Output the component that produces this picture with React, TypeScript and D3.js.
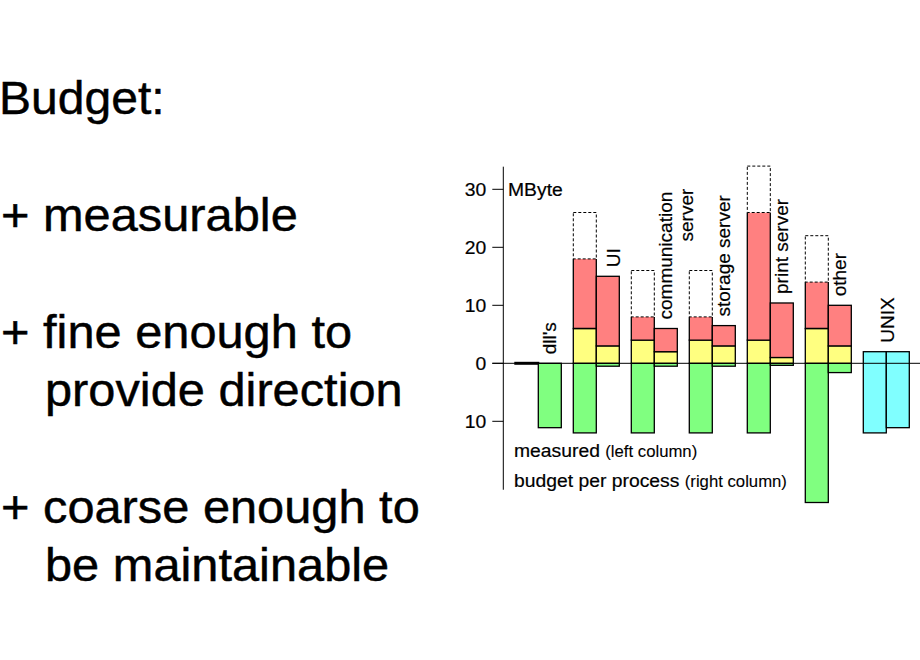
import React from "react";
import * as d3 from "d3";

// ---------- data ----------
const groups = ["dll's", "UI", "communication server", "storage server", "print server", "other", "UNIX"];
const labelLines = [["dll's"], ["UI"], ["communication", "server"], ["storage server"], ["print server"], ["other"], ["UNIX"]];

// measured (left column), MByte
const measuredYellowTop = [0, 6, 4, 4, 4, 6, 0];
const measuredRedTop = [0, 18, 8, 8, 26, 14, 0];
const measuredDashedTop = [0, 26, 16, 16, 34, 22, 0];
const measuredGreenBottom = [0, -12, -12, -12, -12, -24, 0];
const measuredCyanTop = [0, 0, 0, 0, 0, 0, 2];
const measuredCyanBottom = [0, 0, 0, 0, 0, 0, -12];

// budget per process (right column), MByte
const budgetYellowTop = [0, 3, 2, 3, 1, 3, 0];
const budgetRedTop = [0, 15, 6, 6.5, 10.4, 10, 0];
const budgetGreenBottom = [-11.1, -0.5, -0.5, -0.5, -0.35, -1.6, 0];
const budgetCyanTop = [0, 0, 0, 0, 0, 0, 2];
const budgetCyanBottom = [0, 0, 0, 0, 0, 0, -11.1];

const yTicks = [-10, 0, 10, 20, 30];
const yExtent = [-21.8, 33.9];

const bulletLines = [
  { text: "Budget:", indent: false },
  { text: "+ measurable", indent: false },
  { text: "+ fine enough to", indent: false },
  { text: "provide direction", indent: true },
  { text: "+ coarse enough to", indent: false },
  { text: "be maintainable", indent: true },
];
const bulletBaselines = [113.5, 231, 348, 406, 523, 581];

// ---------- styles ----------
const FONT = "'Liberation Sans', Arial, Helvetica, sans-serif";
const C = { green: "#80FF80", yellow: "#FFFF80", red: "#FF8080", cyan: "#80FFFF" };
const SX = 1.045; // horizontal stretch of the original slide text
const SX_BIG = 1.06;
const labelNudge: Record<string, number> = { UI: 6.8, UNIX: 2 };

type Seg = { from: number; to: number; fill: string; dashed?: boolean };

function columnSegments(
  greenBottom: number, yellowTop: number, redTop: number, dashedTop: number,
  cyanBottom: number, cyanTop: number
): Seg[] {
  const s: Seg[] = [];
  if (cyanTop !== cyanBottom) s.push({ from: cyanBottom, to: cyanTop, fill: C.cyan });
  if (greenBottom < 0) s.push({ from: greenBottom, to: 0, fill: C.green });
  if (yellowTop > 0) s.push({ from: 0, to: yellowTop, fill: C.yellow });
  if (redTop > yellowTop) s.push({ from: yellowTop, to: redTop, fill: C.red });
  if (dashedTop > redTop) s.push({ from: redTop, to: dashedTop, fill: "#FFFFFF", dashed: true });
  return s;
}

export default function App() {
  const y = d3.scaleLinear().domain([-10, 30]).range([421.3, 189.3]);
  const x = d3.scaleBand<string>().domain(groups).range([509.3, 915.3]).paddingInner(12 / 58).paddingOuter(6 / 58);
  const sub = d3.scaleBand<string>().domain(["measured", "budget"]).range([0, x.bandwidth()]);
  const axisX = 503.3;
  const tickSize = 11;

  const cols = groups.flatMap((g, i) => {
    const m = columnSegments(measuredGreenBottom[i], measuredYellowTop[i], measuredRedTop[i], measuredDashedTop[i], measuredCyanBottom[i], measuredCyanTop[i]);
    const b = columnSegments(budgetGreenBottom[i], budgetYellowTop[i], budgetRedTop[i], 0, budgetCyanBottom[i], budgetCyanTop[i]);
    return [
      { g, i, key: "measured", x0: (x(g) as number) + (sub("measured") as number), segs: m },
      { g, i, key: "budget", x0: (x(g) as number) + (sub("budget") as number), segs: b },
    ];
  });
  const w = sub.bandwidth();

  return (
    <svg width={920} height={660} style={{ position: "absolute", left: 0, top: 0, background: "#fff" }} fontFamily={FONT}>
      <rect x={0} y={0} width={920} height={660} fill="#fff" />
      {bulletLines.map((l, i) => (
        <text
          key={i}
          transform={`translate(${i === 0 ? -1 : l.indent ? 45 : 1},${bulletBaselines[i]}) scale(${i === 0 ? SX : SX_BIG},1)`}
          fontSize={46}
          fill="#000"
          stroke="#000"
          strokeWidth={0.45}
        >
          {l.text}
        </text>
      ))}

      {/* bars */}
      {cols.map((c) => (
        <g key={c.g + c.key}>
          {c.segs.map((s, k) => {
            const top = y(Math.max(s.from, s.to));
            const bot = y(Math.min(s.from, s.to));
            const next = c.segs[k + 1];
            if (s.dashed) {
              return (
                <rect key={k} x={c.x0} y={top} width={w} height={bot - top} fill="#fff" stroke="#000" strokeWidth={1} strokeDasharray="3,2" />
              );
            }
            if (next && next.dashed) {
              return (
                <g key={k}>
                  <rect x={c.x0} y={top} width={w} height={bot - top} fill={s.fill} />
                  <path d={`M${c.x0},${top}V${bot}H${c.x0 + w}V${top}`} fill="none" stroke="#000" strokeWidth={1.3} />
                </g>
              );
            }
            return <rect key={k} x={c.x0} y={top} width={w} height={bot - top} fill={s.fill} stroke="#000" strokeWidth={1.3} />;
          })}
          {c.key === "measured" && c.segs.length === 0 && (
            <line x1={c.x0 + 0.5} x2={c.x0 + w - 0.5} y1={y(0)} y2={y(0)} stroke="#000" strokeWidth={3} strokeLinecap="square" />
          )}
        </g>
      ))}

      {/* zero line */}
      <line x1={axisX - tickSize} x2={920} y1={y(0)} y2={y(0)} stroke="#000" strokeWidth={1} />

      {/* y axis */}
      <line x1={axisX} x2={axisX} y1={y(yExtent[1])} y2={y(yExtent[0])} stroke="#000" strokeWidth={1} />
      {yTicks.map((t) => (
        <g key={t}>
          <line x1={axisX - tickSize} x2={axisX} y1={y(t)} y2={y(t)} stroke="#000" strokeWidth={1} />
          <text
            transform={`translate(${axisX - tickSize - 6},${y(t)}) scale(${SX},1)`}
            dy="0.36em"
            textAnchor="end"
            fontSize={18.5}
            stroke="#000"
            strokeWidth={0.2}
          >
            {Math.abs(t)}
          </text>
        </g>
      ))}
      <text transform={`translate(508,195.5) scale(${SX},1)`} fontSize={18.5} stroke="#000" strokeWidth={0.2}>MByte</text>

      {/* rotated labels */}
      {groups.map((g, i) => {
        const bx = (x(g) as number) + (sub("budget") as number);
        const isUnix = budgetCyanTop[i] > 0;
        const cx = isUnix ? (x(g) as number) + x.bandwidth() / 2 : bx + w / 2;
        const topVal = Math.max(0, budgetYellowTop[i], budgetRedTop[i], budgetCyanTop[i]);
        const ly = y(topVal) - 9;
        const lx = cx + 5.8 + (labelNudge[g] || 0);
        return labelLines[i].map((ln, j) => (
          <text
            key={g + j}
            transform={`translate(${lx + j * 21},${ly - j * 78}) rotate(-90)`}
            fontSize={19}
            textAnchor="start"
            stroke="#000"
            strokeWidth={0.2}
          >
            {ln}
          </text>
        ));
      })}

      {/* legend */}
      <text transform={`translate(514,457) scale(${SX},1)`} fontSize={18.5} stroke="#000" strokeWidth={0.2}>
        measured <tspan fontSize={16} strokeWidth={0.1}>(left column)</tspan>
      </text>
      <text transform={`translate(514,487) scale(${SX},1)`} fontSize={18.5} stroke="#000" strokeWidth={0.2}>
        budget per process <tspan fontSize={16} strokeWidth={0.1}>(right column)</tspan>
      </text>
    </svg>
  );
}
